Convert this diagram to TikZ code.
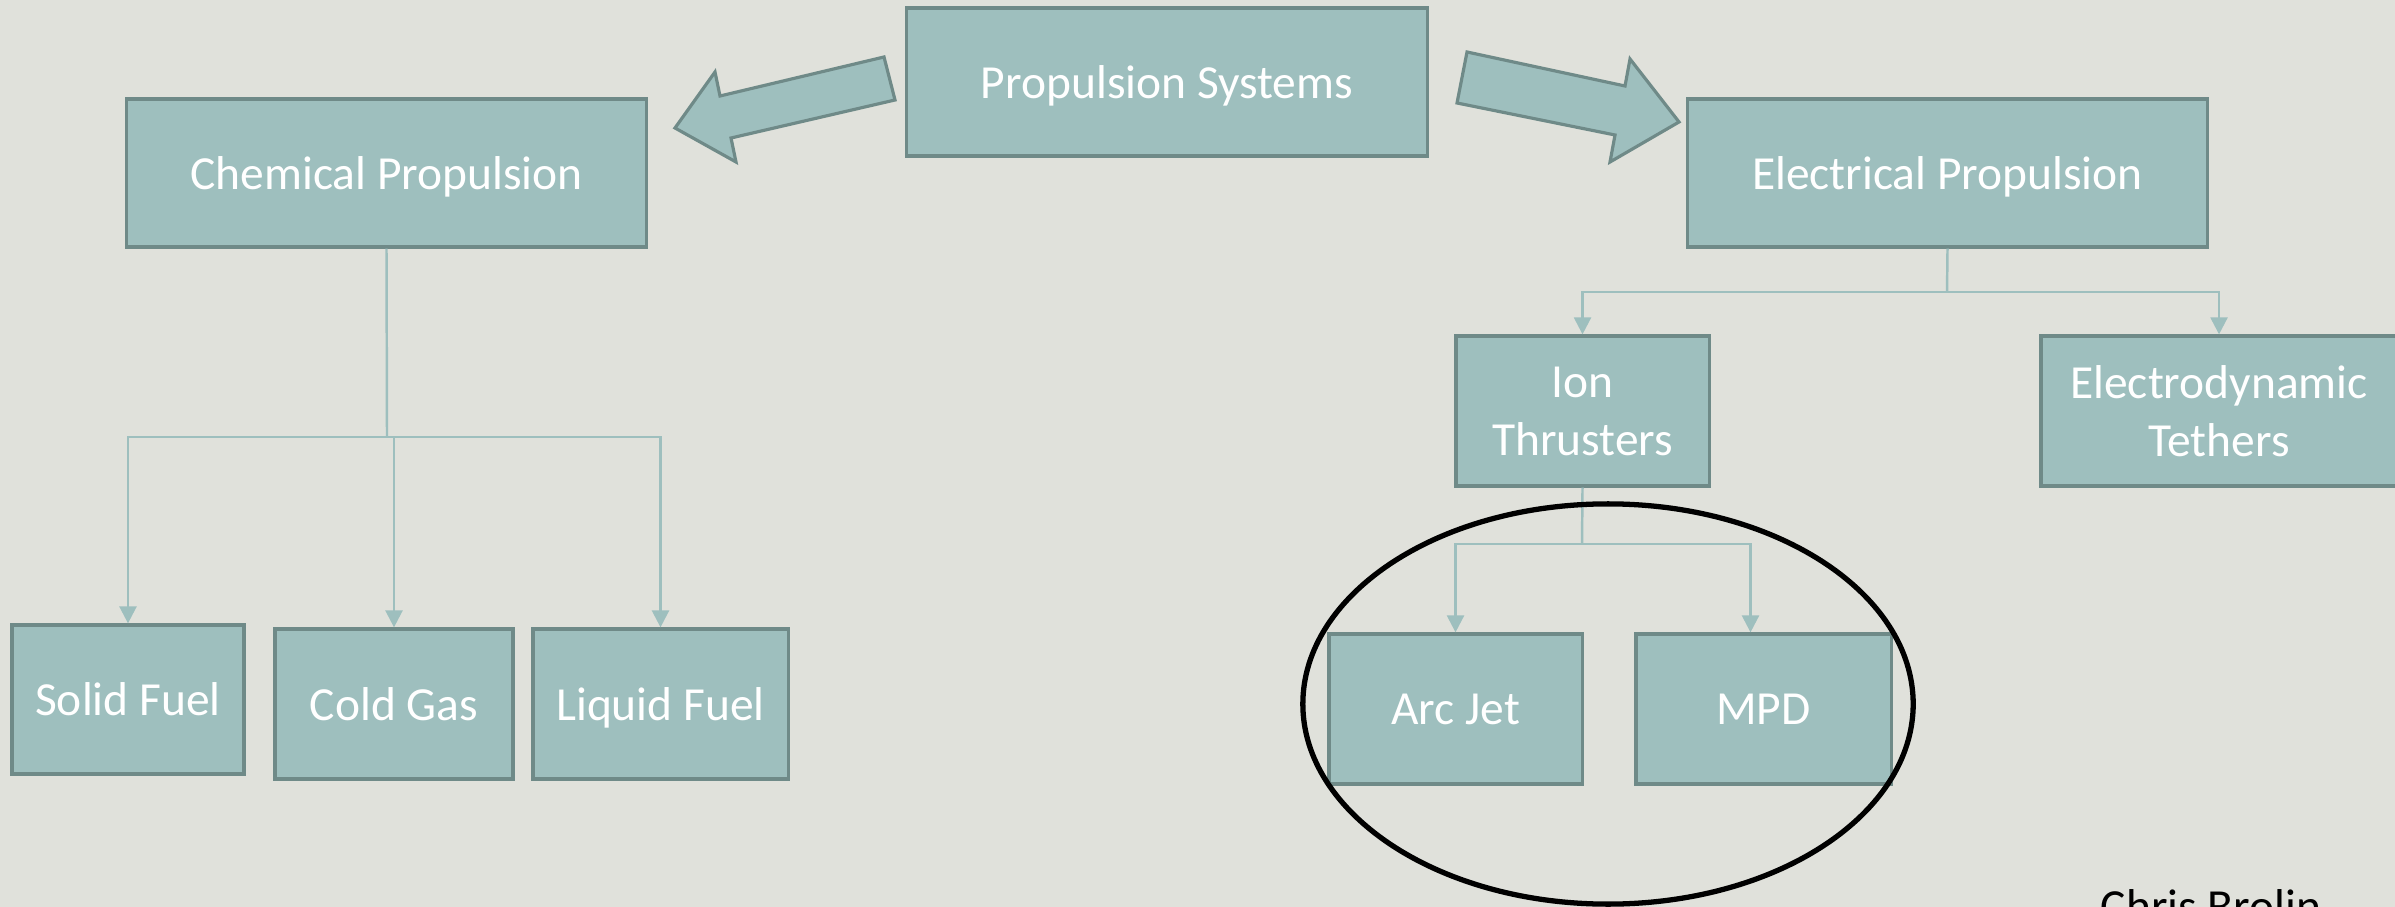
\documentclass[tikz,border=0pt]{standalone}
\usepackage{fontspec}
\setmainfont{Carlito}
\usepackage{tikz}
\usetikzlibrary{arrows.meta}
\usetikzlibrary{shapes}
\definecolor{bgcol}{RGB}{224,225,219}
\definecolor{boxfill}{RGB}{158,191,190}
\definecolor{boxline}{RGB}{111,138,136}
\tikzset{
  box/.style={draw=boxline, fill=boxfill, line width=0.9pt, inner sep=0pt,
    text=white, align=center, text depth=0pt, font=\fontsize{13.5}{16.5}\selectfont},
  link/.style={draw=boxfill, line width=0.7pt},
  linkarrow/.style={link, -{Triangle[width=4.8pt, length=4.8pt]}},
  bigarrow/.style={fill=boxfill, draw=boxline, line width=0.9pt, line join=miter}
}
\begin{document}
\begin{tikzpicture}[x=0.01cm, y=-0.01cm]
    \useasboundingbox (0, 0) rectangle (2395, 907);
    \clip (0, 0) rectangle (2395, 907);
    \fill[bgcol] (0, 0) rectangle (2395, 907);
    \node[box, minimum width=5.2cm, minimum height=1.48cm] (sys) at (1167, 82) {Propulsion Systems};
    \node[box, minimum width=5.19cm, minimum height=1.48cm] (chem) at (386.5, 173) {Chemical Propulsion};
    \node[box, minimum width=5.19cm, minimum height=1.48cm] (elec) at (1947.5, 173) {Electrical Propulsion};
    \node[box, minimum width=2.53cm, minimum height=1.5cm] (ion) at (1582.5, 411) {Ion\\Thrusters};
    \node[box, minimum width=3.56cm, minimum height=1.5cm] (teth) at (2219, 411) {Electrodynamic\\Tethers};
    \node[box, minimum width=2.32cm, minimum height=1.49cm] (solid) at (128, 699.5) {Solid Fuel};
    \node[box, minimum width=2.38cm, minimum height=1.5cm] (cold) at (394, 704) {Cold Gas};
    \node[box, minimum width=2.55cm, minimum height=1.5cm] (liquid) at (660.5, 704) {Liquid Fuel};
    \node[box, minimum width=2.53cm, minimum height=1.5cm] (arc) at (1455.5, 709) {Arc Jet};
    \node[box, minimum width=2.55cm, minimum height=1.5cm] (mpd) at (1763.5, 709) {MPD};
    \draw[bigarrow] (884, 57) -- (895, 100) -- (731, 138) -- (736, 162) -- (675, 128)
      -- (715, 72) -- (720, 96) -- cycle;
    \draw[bigarrow] (1467, 52) -- (1625, 86) -- (1630, 59) -- (1679, 122) -- (1610, 162)
      -- (1615, 135) -- (1457, 103) -- cycle;
    \coordinate (chemjoin) at (387, 437);
    \coordinate (elecjoin) at (1947, 292);
    \coordinate (ionjoin) at (1582, 544);
    \draw[link] (chem.south) -- (chemjoin);
    \draw[linkarrow] (chemjoin) -| (solid.north);
    \draw[linkarrow] (chemjoin) -| (cold.north);
    \draw[linkarrow] (chemjoin) -| (liquid.north);
    \draw[link] (elec.south) -- (elecjoin);
    \draw[linkarrow] (elecjoin) -| (ion.north);
    \draw[linkarrow] (elecjoin) -| (teth.north);
    \draw[link] (ion.south) -- (ionjoin);
    \draw[linkarrow] (ionjoin) -| (arc.north);
    \draw[linkarrow] (ionjoin) -| ([xshift=-0.13cm]mpd.north);
    \draw[black, line width=1.5pt] (1608, 704) ellipse [x radius=3.05cm, y radius=2cm];
    \node[anchor=base, font=\fontsize{13.5}{16.5}\selectfont] (author) at (2211, 922) {Chris Brolin};
  \end{tikzpicture}
\end{document}
